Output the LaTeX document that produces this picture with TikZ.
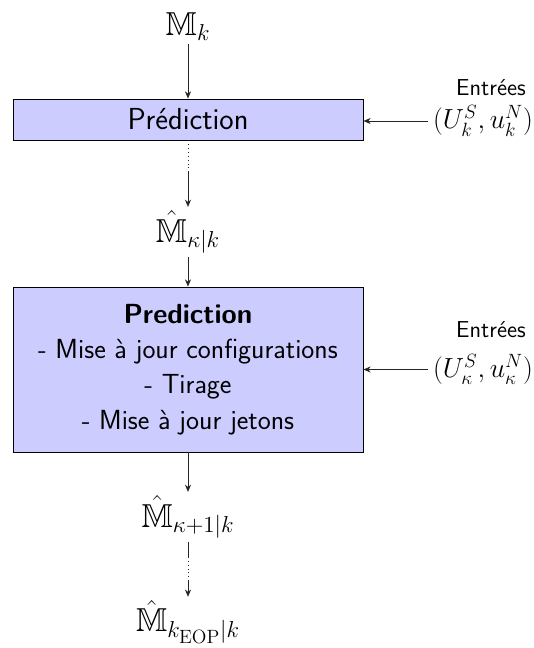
\documentclass[tikz,border=0pt]{standalone}
\usepackage{fontspec}
\usepackage{amssymb}
\usetikzlibrary{arrows.meta}
\tikzset{
  conn/.style={line width=0.4pt, draw=black!85},
  arr/.style={conn, -{Stealth[length=4.5pt,width=3.8pt]}},
  dots/.style={conn, dotted},
  predbox/.style={draw=black, line width=0.6pt, fill=blue!20, inner sep=0pt, font=\sffamily\LARGE, align=center},
  mlbl/.style={inner sep=2pt, font=\huge},
  ulbl/.style={inner sep=3pt, font=\LARGE},
  inlbl/.style={inner sep=1pt, font=\sffamily\Large},
}
\begin{document}
\begin{tikzpicture}[x=0.625pt, y=-0.625pt]
\useasboundingbox (0,0) rectangle (534,648);
% nodes
\node[mlbl] (Mk) at (188,27) {$\mathbb{M}_k$};
\node[predbox, font=\sffamily\fontsize{19}{23}\selectfont, minimum width={350*0.625pt}, minimum height={41*0.625pt}] (P1) at (188,119.5) {Prédiction};
\node[inlbl] (E1) at (491,88) {Entrées};
\node[ulbl] (U1) at (483,121) {$(U_k^S,u_k^N)$};
\node[mlbl] (Mh1) at (188,232) {$\hat{\mathbb{M}}_{\kappa|k}$};
\node[predbox, minimum width={350*0.625pt}, minimum height={165*0.625pt}] (P2) at (188,369.5)
  {\textbf{Prediction}\\ - Mise à jour configurations\\ - Tirage\\ - Mise à jour jetons};
\node[inlbl] (E2) at (491,330) {Entrées};
\node[ulbl] (U2) at (483,369.5) {$(U_\kappa^S,u_\kappa^N)$};
\node[mlbl] (Mh2) at (188,517) {$\hat{\mathbb{M}}_{\kappa+1|k}$};
\node[mlbl] (Mh3) at (188,622) {$\hat{\mathbb{M}}_{k_{\mathrm{EOP}}|k}$};
\coordinate (c1) at (188,172);
\coordinate (c2) at (188,557);
\coordinate (c3) at (188,580);
% connectors
\draw[arr] (Mk) -- (P1);
\draw[arr] (U1.west) -- (U1.west -| P1.east);
\draw[dots] (P1) -- (c1);
\draw[arr] (c1) -- (Mh1);
\draw[arr] (Mh1) -- (P2);
\draw[arr] (U2.west) -- (U2.west -| P2.east);
\draw[arr] (P2) -- (Mh2);
\draw[conn] (Mh2) -- (c2);
\draw[dots] (c2) -- (c3);
\draw[arr] (c3) -- (Mh3);
\end{tikzpicture}
\end{document}
